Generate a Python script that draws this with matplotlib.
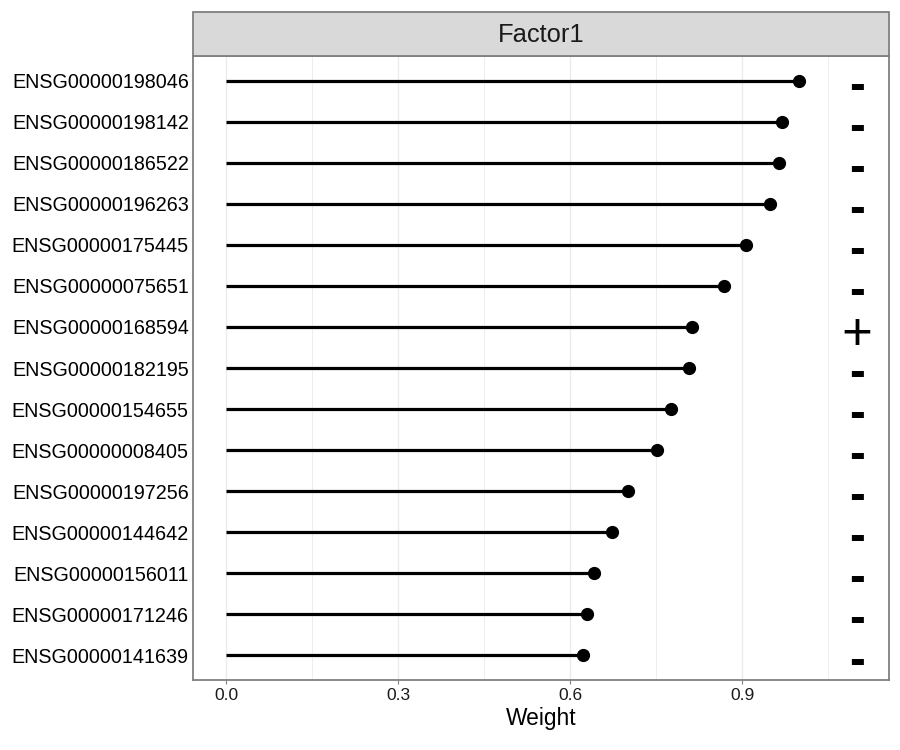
import matplotlib

matplotlib.use("Agg")
import matplotlib.pyplot as plt
from matplotlib.patches import Rectangle

plt.rcParams["font.family"] = ["Liberation Sans", "DejaVu Sans"]

# Top weights for Factor1
GENES = ["ENSG00000198046", "ENSG00000198142", "ENSG00000186522",
         "ENSG00000196263", "ENSG00000175445", "ENSG00000075651",
         "ENSG00000168594", "ENSG00000182195", "ENSG00000154655",
         "ENSG00000008405", "ENSG00000197256", "ENSG00000144642",
         "ENSG00000156011", "ENSG00000171246", "ENSG00000141639"]
WEIGHTS = [1.000, 0.970, 0.965, 0.948, 0.907, 0.869, 0.813, 0.808,
           0.777, 0.752, 0.702, 0.673, 0.642, 0.629, 0.622]
SIGNS = ["-", "-", "-", "-", "-", "-", "+", "-", "-", "-", "-", "-",
         "-", "-", "-"]
FACTOR = "Factor1"
XTICKS = [0.0, 0.3, 0.6, 0.9]
XMINOR = [0.15, 0.45, 0.75, 1.05]
SIGN_X = 1.10

BORDER = "#808080"
GRID = "#ebebeb"

W, H = 900, 750
fig = plt.figure(figsize=(W / 100, H / 100), dpi=100)
ax = fig.add_axes([193 / W, 1 - 680 / H, (889 - 193) / W, (680 - 56) / H])

ypos = list(range(len(GENES)))
ax.hlines(ypos, 0, WEIGHTS, color="black", linewidth=2.3, zorder=3)
ax.plot(WEIGHTS, ypos, "o", color="black", markersize=8.5, zorder=4)

for y, s in zip(ypos, SIGNS):
    if s == "+":
        ax.text(SIGN_X, y + 0.22, "+", ha="center", va="center",
                fontsize=38, color="black", zorder=5)
    else:
        ax.text(SIGN_X, y + 0.15, "-", ha="center", va="center",
                fontsize=34, fontweight="bold", color="black", zorder=5)

ax.set_xlim(-0.0576, 1.1564)
ax.set_ylim(len(GENES) - 0.4, -0.6)

ax.set_xticks(XTICKS)
ax.set_xticklabels([f"{t:.1f}" for t in XTICKS], fontsize=12.5, color="#1a1a1a")
ax.set_xticks(XMINOR, minor=True)
ax.set_yticks(ypos)
ax.set_yticklabels(GENES, fontsize=14.2, color="black")

for t in XTICKS:
    ax.axvline(t, color=GRID, linewidth=1.0, zorder=0)
for t in XMINOR:
    ax.axvline(t, color=GRID, linewidth=0.6, zorder=0)

ax.tick_params(axis="x", which="major", length=3, width=0.8, color=BORDER, pad=3)
ax.tick_params(axis="x", which="minor", length=0)
ax.tick_params(axis="y", length=0, pad=3)

for sp in ax.spines.values():
    sp.set_color(BORDER)
    sp.set_linewidth(1.3)

ax.set_xlabel("Weight", fontsize=16.4, labelpad=3)

# facet strip
strip = Rectangle((193 / W, 1 - 56 / H), (889 - 193) / W, 44 / H,
                  transform=fig.transFigure, facecolor="#d9d9d9",
                  edgecolor=BORDER, linewidth=1.3)
fig.patches.append(strip)
fig.text((193 + 889) / 2 / W, 1 - 35 / H, FACTOR, ha="center", va="center",
         fontsize=18.4, color="#1a1a1a")

fig.savefig("out.png", dpi=100)
